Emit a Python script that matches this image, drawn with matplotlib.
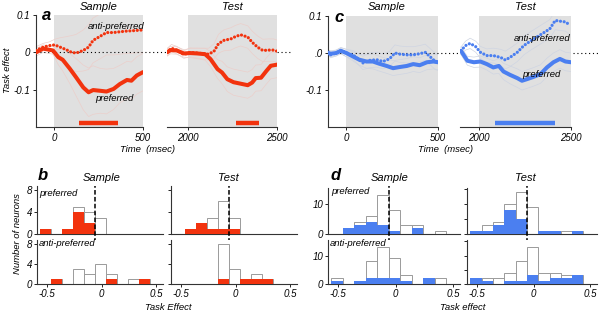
import matplotlib.pyplot as plt
from matplotlib.transforms import blended_transform_factory

# ---------------- data ----------------
# panel a, sample epoch (ms, task effect)
a_s_pref_t = [-100, -60, -5, 25, 50, 90, 125, 165, 195, 220, 260, 295, 335, 370, 410, 435, 465, 500]
a_s_pref_v = [0.0, 0.01, 0.005, -0.013, -0.02, -0.044, -0.067, -0.094, -0.107, -0.101, -0.103, -0.105,
              -0.098, -0.085, -0.074, -0.076, -0.062, -0.053]
a_s_pref_sem = [0.01, 0.01, 0.01, 0.02, 0.03, 0.04, 0.05, 0.06, 0.065, 0.065, 0.06, 0.06, 0.055, 0.05,
                0.05, 0.05, 0.05, 0.05]
a_s_anti_t = [-100, -60, -25, 5, 35, 70, 100, 125, 165, 195, 220, 260, 295, 335, 370, 410, 445, 500]
a_s_anti_v = [0.005, 0.014, 0.018, 0.02, 0.014, 0.007, 0.0, -0.002, 0.005, 0.014, 0.032, 0.043, 0.053,
              0.053, 0.055, 0.057, 0.058, 0.06]
a_s_anti_sem = [0.01, 0.01, 0.01, 0.015, 0.025, 0.035, 0.045, 0.05, 0.055, 0.06, 0.06, 0.06, 0.06, 0.06,
                0.06, 0.06, 0.06, 0.06]

# panel a, test epoch
a_t_pref_t = [1880, 1900, 1935, 1975, 2010, 2050, 2095, 2125, 2165, 2190, 2220, 2255, 2295, 2335, 2360,
              2380, 2410, 2440, 2465, 2500]
a_t_pref_v = [0.0, 0.006, 0.005, -0.003, -0.002, -0.003, -0.005, -0.018, -0.045, -0.054, -0.072, -0.08,
              -0.084, -0.088, -0.081, -0.069, -0.068, -0.05, -0.036, -0.033]
a_t_pref_sem = [0.01, 0.01, 0.01, 0.01, 0.012, 0.014, 0.016, 0.02, 0.025, 0.03, 0.033, 0.035, 0.035,
                0.035, 0.035, 0.035, 0.035, 0.035, 0.035, 0.035]
a_t_anti_t = [1880, 1905, 1935, 1975, 2010, 2070, 2115, 2145, 2170, 2200, 2240, 2265, 2295, 2335, 2360,
              2390, 2420, 2455, 2480, 2500]
a_t_anti_v = [0.0, 0.011, 0.006, -0.006, 0.0, -0.003, -0.005, 0.003, 0.023, 0.032, 0.036, 0.042, 0.047,
              0.041, 0.027, 0.014, 0.005, 0.006, 0.006, 0.003]
a_t_anti_sem = [0.01, 0.01, 0.01, 0.01, 0.012, 0.014, 0.016, 0.02, 0.025, 0.028, 0.03, 0.03, 0.03, 0.03,
                0.03, 0.03, 0.03, 0.03, 0.03, 0.03]

# panel c, sample epoch
c_s_pref_t = [-100, -85, -55, -30, 0, 35, 70, 110, 145, 180, 220, 255, 290, 330, 365, 400, 440, 475, 500]
c_s_pref_v = [0.0, -0.002, 0.0, 0.006, 0.0, -0.009, -0.018, -0.023, -0.023, -0.029, -0.035, -0.041,
              -0.038, -0.035, -0.03, -0.033, -0.025, -0.023, -0.025]
c_s_pref_sem = [0.008, 0.008, 0.008, 0.008, 0.01, 0.012, 0.015, 0.018, 0.02, 0.02, 0.02, 0.02, 0.02,
                0.02, 0.02, 0.02, 0.02, 0.02, 0.02]
c_s_anti_t = [-100, -85, -55, -30, 0, 35, 65, 90, 125, 165, 200, 235, 265, 290, 330, 365, 400, 430, 455,
              485, 500]
c_s_anti_v = [0.002, -0.005, 0.0, 0.007, 0.0, -0.005, -0.016, -0.027, -0.02, -0.018, -0.023, -0.016,
              0.0, -0.003, -0.005, -0.005, -0.002, 0.002, -0.009, -0.023, -0.025]
c_s_anti_sem = [0.008, 0.008, 0.008, 0.008, 0.01, 0.012, 0.015, 0.018, 0.02, 0.02, 0.02, 0.02, 0.022,
                0.022, 0.022, 0.022, 0.022, 0.022, 0.022, 0.022, 0.022]

# panel c, test epoch
c_t_pref_t = [1905, 1940, 1975, 2010, 2045, 2080, 2110, 2135, 2170, 2210, 2235, 2260, 2295, 2335, 2370,
              2405, 2440, 2470, 2500]
c_t_pref_v = [0.006, -0.021, -0.025, -0.023, -0.03, -0.039, -0.035, -0.05, -0.059, -0.068, -0.075,
              -0.071, -0.065, -0.057, -0.039, -0.025, -0.016, -0.023, -0.025]
c_t_pref_sem = [0.01, 0.012, 0.014, 0.015, 0.016, 0.018, 0.02, 0.022, 0.024, 0.025, 0.025, 0.025, 0.025,
                0.025, 0.025, 0.025, 0.025, 0.025, 0.025]
c_t_anti_t = [1905, 1930, 1955, 1985, 2010, 2045, 2080, 2120, 2145, 2170, 2210, 2245, 2280, 2315, 2350,
              2385, 2415, 2440, 2470, 2495]
c_t_anti_v = [0.006, 0.02, 0.026, 0.017, 0.002, -0.007, -0.007, -0.012, -0.019, -0.012, 0.002, 0.02,
              0.032, 0.043, 0.054, 0.065, 0.088, 0.086, 0.084, 0.075]
c_t_anti_sem = [0.01, 0.012, 0.014, 0.015, 0.016, 0.018, 0.02, 0.022, 0.024, 0.025, 0.025, 0.025, 0.025,
                0.025, 0.025, 0.025, 0.025, 0.025, 0.025, 0.025]

# significance windows (ms)
a_s_sig = [142, 361]
a_t_sig = [2267, 2400]
c_t_sig = [2091, 2414]

# histograms: left edges of bins, width 0.1
bin_left = [-0.56, -0.46, -0.36, -0.26, -0.16, -0.06, 0.04, 0.14, 0.24, 0.34]
b_s_pref_all = [1, 0, 1, 5, 4, 3, 0, 0, 0, 0]
b_s_pref_sig = [1, 0, 1, 4, 2, 0, 0, 0, 0, 0]
b_s_anti_all = [0, 1, 0, 3, 2, 4, 2, 0, 1, 1]
b_s_anti_sig = [0, 1, 0, 0, 0, 0, 1, 0, 0, 1]
b_t_pref_all = [0, 1, 2, 3, 6, 3, 0, 0, 0, 0]
b_t_pref_sig = [0, 1, 2, 1, 1, 1, 0, 0, 0, 0]
b_t_anti_all = [0, 0, 0, 0, 8, 3, 1, 2, 1, 0]
b_t_anti_sig = [0, 0, 0, 0, 1, 0, 1, 1, 1, 0]
d_s_pref_all = [0, 2, 4, 6, 13, 8, 3, 3, 0, 1]
d_s_pref_sig = [0, 2, 3, 4, 3, 1, 0, 2, 0, 0]
d_s_anti_all = [2, 0, 1, 8, 13, 9, 3, 0, 2, 2]
d_s_anti_sig = [1, 0, 1, 2, 2, 2, 1, 0, 2, 0]
d_t_pref_all = [1, 3, 4, 10, 14, 9, 1, 1, 1, 1]
d_t_pref_sig = [1, 1, 3, 8, 5, 0, 1, 1, 0, 1]
d_t_anti_all = [2, 2, 2, 4, 8, 13, 4, 4, 3, 3]
d_t_anti_sig = [2, 1, 0, 1, 1, 3, 1, 2, 2, 3]
median_line = -0.06

# ---------------- style ----------------
plt.rcParams['font.family'] = ['Liberation Sans', 'DejaVu Sans']
plt.rcParams['font.style'] = 'italic'
plt.rcParams['axes.unicode_minus'] = False

RED = '#f2330e'
BLUE = '#4b7ff0'
RED_BAND = '#ebcfcb'
BLUE_BAND = '#cfd5e2'
SHADE = '#e0e0e0'
SIG_Y = -0.19

W, H = 600, 313
fig = plt.figure(figsize=(6, 3.13), dpi=100)


def add_ax(l, t, r, b):
    return fig.add_axes([l / W, 1 - b / H, (r - l) / W, (b - t) / H])


def ftext(x, y, s, **kw):
    fig.text(x / W, 1 - y / H, s, ha=kw.pop('ha', 'center'), va=kw.pop('va', 'center'), **kw)


def ts_axes(box, xlim, shade, xticks, ylabels=None):
    ax = add_ax(*box)
    ax.set_xlim(xlim)
    ax.set_ylim(-0.2, 0.1)
    ax.axvspan(shade[0], shade[1], color=SHADE, lw=0, zorder=0)
    ax.spines[['top', 'right']].set_visible(False)
    ax.set_xticks(xticks)
    ax.tick_params(length=2, width=0.6, labelsize=7, pad=2)
    if ylabels:
        ax.set_yticks([0.1, 0, -0.1])
        ax.set_yticklabels(ylabels)
    else:
        ax.set_yticks([])
        ax.spines['left'].set_visible(False)
    for s in ax.spines.values():
        s.set_linewidth(0.8)
        s.set_color('#333333')
    return ax


def trace(ax, t, v, sem, color, band, dotted):
    ax.plot(t, [a + s for a, s in zip(v, sem)], color=band, lw=0.5, zorder=1)
    ax.plot(t, [a - s for a, s in zip(v, sem)], color=band, lw=0.5, zorder=1)
    if dotted:
        ax.plot(t, v, color=color, lw=2.3, ls=(0, (0.01, 1.15)), dash_capstyle='round', zorder=3)
    else:
        ax.plot(t, v, color=color, lw=2.9, solid_capstyle='round', zorder=3)


def zero_line(ax, x0, x1):
    tr = blended_transform_factory(fig.transFigure, ax.transData)
    ax.plot([x0 / W, x1 / W], [0, 0], transform=tr, color='k', lw=0.8, ls=(0, (1, 2.5)),
            clip_on=False, zorder=2)


# ---------------- panel a ----------------
ax = ts_axes((36, 15, 143, 127), (-100, 500), (0, 500), [0, 500], ['0.1', '0', '-0.1'])
trace(ax, a_s_pref_t, a_s_pref_v, a_s_pref_sem, RED, RED_BAND, False)
trace(ax, a_s_anti_t, a_s_anti_v, a_s_anti_sem, RED, RED_BAND, True)
ax.plot(a_s_sig, [SIG_Y, SIG_Y], color=RED, lw=3.2, solid_capstyle='butt')
ax.text(350, 0.07, 'anti-preferred', fontsize=6.8, ha='center', va='center')
ax.text(340, -0.123, 'preferred', fontsize=6.8, ha='center', va='center')
zero_line(ax, 36, 290)

ax = ts_axes((167, 15, 277, 127), (1880, 2500), (2000, 2500), [2000, 2500])
trace(ax, a_t_pref_t, a_t_pref_v, a_t_pref_sem, RED, RED_BAND, False)
trace(ax, a_t_anti_t, a_t_anti_v, a_t_anti_sem, RED, RED_BAND, True)
ax.plot(a_t_sig, [SIG_Y, SIG_Y], color=RED, lw=3.2, solid_capstyle='butt')

# ---------------- panel c ----------------
ax = ts_axes((328, 16, 438, 127), (-100, 500), (0, 500), [0, 500], ['0.1', '.0', '-0.1'])
trace(ax, c_s_pref_t, c_s_pref_v, c_s_pref_sem, BLUE, BLUE_BAND, False)
trace(ax, c_s_anti_t, c_s_anti_v, c_s_anti_sem, BLUE, BLUE_BAND, True)
zero_line(ax, 328, 598)

ax = ts_axes((460, 16, 571, 127), (1900, 2500), (2000, 2500), [2000, 2500])
trace(ax, c_t_pref_t, c_t_pref_v, c_t_pref_sem, BLUE, BLUE_BAND, False)
trace(ax, c_t_anti_t, c_t_anti_v, c_t_anti_sem, BLUE, BLUE_BAND, True)
ax.plot(c_t_sig, [SIG_Y, SIG_Y], color=BLUE, lw=3.2, solid_capstyle='butt')
ax.text(2345, 0.038, 'anti-preferred', fontsize=6.8, ha='center', va='center')
ax.text(2340, -0.057, 'preferred', fontsize=6.8, ha='center', va='center')

# titles / labels for top row
ftext(99, 7, 'Sample', fontsize=8)
ftext(232, 7, 'Test', fontsize=8)
ftext(387, 7, 'Sample', fontsize=8)
ftext(525, 7, 'Test', fontsize=8)
ftext(148, 149, 'Time  (msec)', fontsize=6.8)
ftext(446, 149, 'Time  (msec)', fontsize=6.8)
ftext(8, 70, 'Task effect', fontsize=6.8, rotation=90)
ftext(47, 15, 'a', fontsize=12, weight='bold')
ftext(339, 17, 'c', fontsize=12, weight='bold')


# ---------------- histograms ----------------
def hist_axes(box, counts_all, counts_sig, color, ymax, yticks, ylabels, xlabels):
    ax = add_ax(*box)
    ax.bar(bin_left, counts_all, width=0.1, align='edge', facecolor='white',
           edgecolor='#9a9a9a', lw=0.7, zorder=2)
    ax.bar(bin_left, counts_sig, width=0.1, align='edge', color=color, lw=0, zorder=3)
    ax.set_xlim(-0.59, 0.56)
    ax.set_ylim(0, ymax)
    ax.spines[['top', 'right']].set_visible(False)
    for s in ax.spines.values():
        s.set_linewidth(0.8)
        s.set_color('#333333')
    ax.set_yticks(yticks)
    ax.set_yticklabels(ylabels)
    if xlabels:
        ax.set_xticks([-0.5, 0, 0.5])
        ax.set_xticklabels(['-0.5', '0', '0.5'])
    else:
        ax.set_xticks([])
    ax.tick_params(length=2, width=0.6, labelsize=7, pad=1.5)
    return ax


def dashed(ax_top, y_top, y_bot):
    tr = blended_transform_factory(ax_top.transData, fig.transFigure)
    ax_top.plot([median_line, median_line], [1 - y_bot / H, 1 - y_top / H], transform=tr,
                color='k', lw=1.1, ls=(0, (3, 1.5)), clip_on=False, zorder=5)


# panel b
ax1 = hist_axes((37, 186, 163, 234), b_s_pref_all, b_s_pref_sig, RED, 8.8, [0, 4, 8], ['0', '4', '8'], False)
ax2 = hist_axes((37, 240, 163, 284), b_s_anti_all, b_s_anti_sig, RED, 8.8, [0, 4, 8], ['0', '4', '8'], True)
dashed(ax1, 186, 284)
ax3 = hist_axes((171, 186, 297, 234), b_t_pref_all, b_t_pref_sig, RED, 8.8, [0, 4, 8], [], False)
ax4 = hist_axes((171, 240, 297, 284), b_t_anti_all, b_t_anti_sig, RED, 8.8, [0, 4, 8], [], True)
dashed(ax3, 186, 284)

# panel d
ax5 = hist_axes((328, 188, 460, 234), d_s_pref_all, d_s_pref_sig, BLUE, 15.5, [0, 10], ['0', '10'], False)
ax6 = hist_axes((328, 240, 460, 284), d_s_anti_all, d_s_anti_sig, BLUE, 15.5, [0, 10], ['0', '10'], True)
dashed(ax5, 186, 284)
ax7 = hist_axes((467, 188, 597, 234), d_t_pref_all, d_t_pref_sig, BLUE, 15.5, [0, 5, 10, 15], [], False)
ax8 = hist_axes((467, 240, 597, 284), d_t_anti_all, d_t_anti_sig, BLUE, 15.5, [0, 5, 10, 15], [], True)
dashed(ax7, 186, 284)

for x, y, s in [(39, 193, 'preferred'), (39, 244, 'anti-preferred'),
                (331, 192, 'preferred'), (330, 244, 'anti-preferred')]:
    ftext(x, y, s, fontsize=6.8, ha='left')

ftext(102, 178, 'Sample', fontsize=8)
ftext(228, 178, 'Test', fontsize=8)
ftext(390, 178, 'Sample', fontsize=8)
ftext(525, 178, 'Test', fontsize=8)
ftext(168, 307, 'Task Effect', fontsize=6.8)
ftext(463, 307, 'Task effect', fontsize=6.8)
ftext(18, 234, 'Number of neurons', fontsize=6.8, rotation=90)
ftext(43, 176, 'b', fontsize=12, weight='bold')
ftext(336, 176, 'd', fontsize=12, weight='bold')

fig.savefig('out.png', dpi=100)
